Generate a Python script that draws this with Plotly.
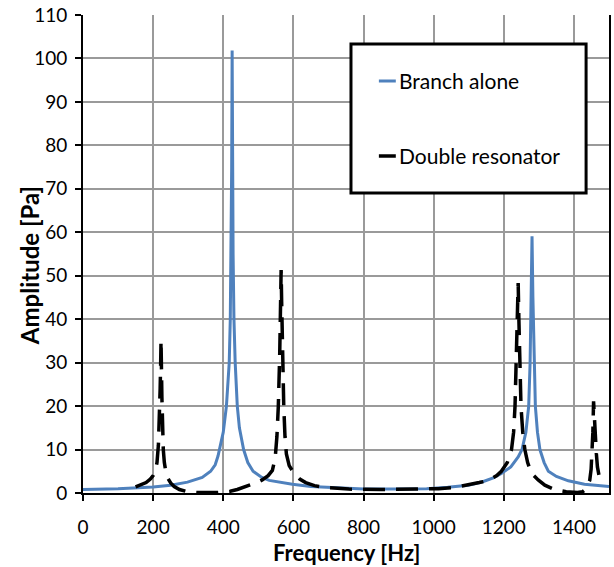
import plotly.graph_objects as go

# Branch alone: frequency (Hz) and amplitude (Pa)
branch_freq = [0, 100, 200, 250, 298, 340, 364, 377, 385, 392, 400, 409, 417, 420, 422.5, 424,
               425.3, 426.5, 428, 430.5, 434, 440, 446, 458, 470, 485, 510, 531, 597, 650, 739,
               800, 900, 980, 1040, 1099, 1140, 1170, 1193, 1220, 1241, 1252, 1263, 1271, 1275,
               1278, 1280.5, 1283, 1286, 1290, 1296, 1303, 1315, 1327, 1350, 1384, 1430, 1500]
branch_amp = [0.8, 1.0, 1.4, 1.8, 2.5, 3.6, 5.0, 6.5, 8.5, 11, 14, 20, 30, 40, 55, 75,
              101.8, 75, 55, 40, 30, 20, 15, 10, 7, 5, 3.6, 2.9, 2.0, 1.5, 1.1,
              0.9, 0.9, 1.0, 1.3, 1.8, 2.6, 3.5, 4.5, 6, 8.3, 10, 14, 20, 30,
              45, 59.1, 45, 30, 20, 14, 10, 7, 5, 3.8, 2.8, 2.0, 1.5]

# Double resonator: frequency (Hz) and amplitude (Pa)
double_freq = [150, 165, 180, 192, 200, 206, 211, 215, 218, 220, 221.5, 222.5, 223.5, 225, 227,
               229, 232, 236, 242, 250, 260, 275, 298, 330, 383, 420, 440, 455, 475, 495, 511,
               528, 540, 548, 553, 557, 561, 563.5, 565, 566.5, 569, 572.5, 576, 580, 588, 602,
               618, 635, 660, 692, 758, 850, 950, 1014, 1060, 1099, 1130, 1156, 1180, 1193,
               1210, 1222, 1228, 1232, 1236, 1239, 1241, 1243, 1246, 1249, 1254, 1260, 1268,
               1279, 1298, 1317, 1345, 1378, 1410, 1425, 1433, 1440, 1445, 1449, 1452, 1454,
               1456, 1458, 1461, 1464, 1467, 1473]
double_amp = [1.4, 1.8, 2.4, 3.2, 4.0, 5, 7, 11, 17, 24, 30, 35.2, 30, 22, 15,
              10, 7, 5, 3.4, 2.3, 1.5, 0.8, 0.3, 0.1, 0.1, 0.4, 0.8, 1.2, 1.8, 2.4, 3.0,
              4.0, 5.2, 8, 13, 20, 32, 44, 51.3, 44, 32, 20, 13, 9, 6.3, 4.5,
              3.2, 2.4, 1.7, 1.25, 0.9, 0.8, 0.9, 1.0, 1.3, 1.8, 2.4, 2.9, 4.0, 5,
              7, 10, 14, 20, 30, 40, 48.3, 40, 30, 20, 14, 10, 7,
              4.5, 3, 1.8, 0.8, 0.3, 0.1, 0.3, 0.8, 1.8, 2.9, 5.5, 9, 14,
              21.1, 17, 13, 9, 6, 3.4]

x_ticks = [0, 200, 400, 600, 800, 1000, 1200, 1400]
y_ticks = list(range(0, 111, 10))

series_names = ["Branch alone", "Double resonator"]
x_title = "Frequency [Hz]"
y_title = "Amplitude [Pa]"
BLUE = "#4F81BD"
FONT = "Lato"

fig = go.Figure()
fig.add_trace(go.Scatter(x=branch_freq, y=branch_amp, mode="lines", name=series_names[0],
                         line=dict(color=BLUE, width=3), showlegend=False))
fig.add_trace(go.Scatter(x=double_freq, y=double_amp, mode="lines", name=series_names[1],
                         line=dict(color="black", width=3.5, dash="22px,11px"), showlegend=False))

# plot-area geometry in pixels, used to place the boxed legend and axis titles
W, H = 614, 567
L, R, T, B = 83, 611, 15, 493
def px_x(p):
    return (p - L) / (R - L)
def px_y(p):
    return (B - p) / (B - T)

shapes = [
    dict(type="rect", xref="paper", yref="paper",
         x0=px_x(352), x1=px_x(588), y0=px_y(193), y1=px_y(44),
         line=dict(color="black", width=3), fillcolor="white", layer="above"),
    dict(type="line", xref="paper", yref="paper",
         x0=px_x(380), x1=px_x(397), y0=px_y(81), y1=px_y(81),
         line=dict(color=BLUE, width=3), layer="above"),
    dict(type="line", xref="paper", yref="paper",
         x0=px_x(380), x1=px_x(397), y0=px_y(156), y1=px_y(156),
         line=dict(color="black", width=3.5), layer="above"),
]
annotations = [
    dict(text=series_names[0], xref="paper", yref="paper", x=px_x(398), y=px_y(81),
         xanchor="left", yanchor="middle", showarrow=False,
         font=dict(family=FONT, size=21, color="black")),
    dict(text=series_names[1], xref="paper", yref="paper", x=px_x(398), y=px_y(156),
         xanchor="left", yanchor="middle", showarrow=False,
         font=dict(family=FONT, size=21, color="black")),
    dict(text="<b>%s</b>" % x_title, xref="paper", yref="paper", x=0.5, y=px_y(552),
         xanchor="center", yanchor="middle", showarrow=False,
         font=dict(family=FONT, size=22, color="black")),
    dict(text="<b>%s</b>" % y_title, xref="paper", yref="paper", x=px_x(29), y=px_y(266),
         xanchor="center", yanchor="middle", showarrow=False, textangle=-90,
         font=dict(family=FONT, size=24, color="black")),
]

fig.update_layout(
    width=W, height=H,
    margin=dict(l=L, r=W - R, t=T, b=H - B),
    paper_bgcolor="white", plot_bgcolor="white",
    font=dict(family=FONT, color="black"),
    shapes=shapes, annotations=annotations,
)
fig.update_xaxes(
    range=[0, 1500], tickvals=x_ticks, ticktext=[str(v) for v in x_ticks],
    showgrid=True, gridcolor="#9A9A9A", gridwidth=1.5,
    showline=True, linecolor="black", linewidth=2,
    ticks="outside", ticklen=6, tickwidth=1.5, tickcolor="black",
    ticklabelstandoff=10, tickfont=dict(family=FONT, size=19),
    zeroline=False,
)
fig.update_yaxes(
    range=[0, 110], tickvals=y_ticks,
    showgrid=True, gridcolor="#9A9A9A", gridwidth=1.5,
    showline=True, linecolor="black", linewidth=2, mirror=True,
    ticks="outside", ticklen=6, tickwidth=1.5, tickcolor="black",
    ticklabelstandoff=4, tickfont=dict(family=FONT, size=19),
    zeroline=False,
)

fig.write_html("out.html")
